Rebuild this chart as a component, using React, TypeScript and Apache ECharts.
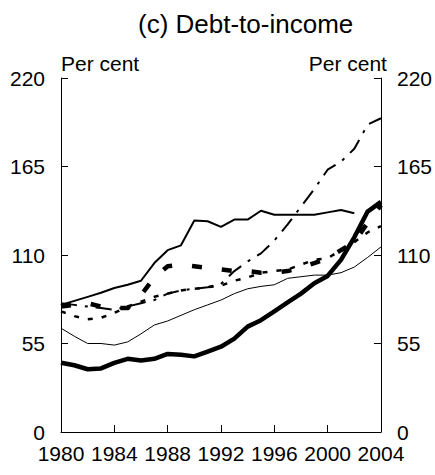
import React, { useEffect, useRef } from "react";
import * as echarts from "echarts";

const years = [1980, 1981, 1982, 1983, 1984, 1985, 1986, 1987, 1988, 1989, 1990, 1991, 1992, 1993, 1994, 1995, 1996, 1997, 1998, 1999, 2000, 2001, 2002, 2003, 2004];

const mediumSolid = [79, 81.5, 84, 86.5, 89.5, 91.5, 94, 105, 113, 116, 131.5, 131, 127.5, 132, 132, 137.5, 135, 135, 135, 135, 136.5, 138, 136];
const dashDot = [80, 79, 78, 77, 76, 78, 80, 82, 86, 88, 89, 90, 92, 100, 106, 111, 119, 129, 140, 151, 163, 168, 176, 191, 195];
const heavyDashed = [78, 79, 80, 78, 77, 77, 85, 96, 103, 104, 103, 102, 101, 100, 100, 99, 99, 100, 102, 105, 108, 113, 118, 130, 141];
const dotted = [75, 72, 70, 71, 74, 78, 81, 84, 86, 88, 89, 90, 91, 94, 96, 99, 100, 101, 104, 107, 108, 113, 118, 124, 128];
const thinSolid = [64.5, 59.5, 55, 55, 54, 56, 61, 66.5, 69, 72.5, 76, 79, 82, 86, 89, 90.5, 91.5, 95.5, 96.5, 97.5, 97.5, 99, 102.5, 108.5, 115];
const thickSolid = [43, 41.5, 39, 39.5, 43, 45.5, 44.5, 45.5, 48.5, 48, 47, 50, 53, 58, 65.5, 69.5, 75, 80.5, 86, 92.5, 97, 107, 121, 137, 143];

const yTicks = { min: 0, max: 220, interval: 55 };
const title = "(c) Debt-to-income";
const unit = "Per cent";

const FONT = "'Liberation Sans', Arial, sans-serif";

function pairs(vals: number[]) {
  return vals.map((v, i) => [years[i], v]);
}

export default function App() {
  const ref = useRef<HTMLDivElement>(null);
  useEffect(() => {
    if (!ref.current) return;
    const chart = echarts.init(ref.current, undefined, { renderer: "svg" });
    const yAxisBase = (pos: "left" | "right") => ({
      type: "value",
      position: pos,
      min: yTicks.min,
      max: yTicks.max,
      interval: yTicks.interval,
      name: unit,
      nameLocation: "end",
      nameGap: 4,
      nameTextStyle: {
        fontFamily: FONT,
        fontSize: 21,
        color: "#000",
        align: pos === "left" ? "left" : "right",
        verticalAlign: "bottom",
        padding: pos === "left" ? [0, 0, 0, 0] : [0, -6, 0, 0],
      },
      axisLine: { show: true, lineStyle: { color: "#000", width: 1 } },
      axisTick: { show: true, inside: true, length: 7, lineStyle: { color: "#000" } },
      axisLabel: { fontFamily: FONT, fontSize: 21, color: "#000", margin: 16 },
      splitLine: { show: false },
    });
    const line = (data: number[], width: number, type: any) => ({
      type: "line",
      data: pairs(data),
      showSymbol: false,
      symbol: "none",
      lineStyle: { color: "#000", width, type, cap: "butt", join: "round" },
    });
    chart.setOption({
      animation: false,
      backgroundColor: "#fff",
      title: {
        text: title,
        left: 133,
        top: 6,
        textStyle: { fontFamily: FONT, fontSize: 26, fontWeight: "normal", color: "#000" },
      },
      grid: { left: 61, right: 53, top: 78, bottom: 43 },
      xAxis: {
        type: "value",
        min: 1980,
        max: 2004,
        interval: 4,
        axisLine: { lineStyle: { color: "#000", width: 1 } },
        axisTick: { inside: true, length: 7, lineStyle: { color: "#000" } },
        axisLabel: { fontFamily: FONT, fontSize: 21, color: "#000", margin: 11, formatter: (v: number) => String(v) },
        splitLine: { show: false },
      },
      yAxis: [yAxisBase("left"), yAxisBase("right")],
      series: [
        line(thinSolid, 1, "solid"),
        line(dotted, 2.5, [5, 9]),
        line(dashDot, 2, [16, 8, 3, 8]),
        line(heavyDashed, 4.5, [10, 20]),
        line(mediumSolid, 2, "solid"),
        line(thickSolid, 4.5, "solid"),
      ],
    });
    return () => chart.dispose();
  }, []);
  return <div ref={ref} style={{ position: "fixed", left: 0, top: 0, width: 435, height: 475 }} />;
}
